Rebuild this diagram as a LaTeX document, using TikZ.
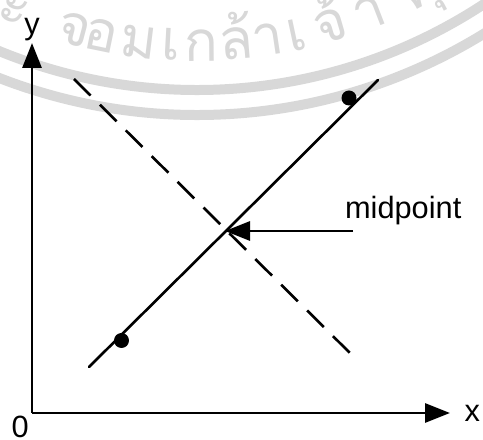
\documentclass[tikz,border=0pt]{standalone}
\usepackage{fontspec}
\setmainfont{Liberation Sans}
\newfontfamily\thaifont[Script=Thai]{Loma}
\usetikzlibrary{arrows.meta, positioning, calc}
\definecolor{cwater}{HTML}{D8D8D8}
\tikzset{
  every picture/.style={font=\fontsize{17.5}{21}\selectfont},
  axis/.style={line width=1.7pt},
  arrow/.style={-{Triangle[length=0.5cm, width=0.38cm]}, line width=1.7pt},
  line/.style={line width=1.5pt, line cap=round},
  dot/.style={circle, fill=black, inner sep=0pt, minimum size=0.3cm},
  lbl/.style={inner sep=1pt},
  band/.style={draw=cwater, line width=0.2cm},
  wmark/.style={text=cwater, inner sep=0pt, anchor=base, font=\thaifont\fontsize{32}{36}\selectfont},
}

\begin{document}
\begin{tikzpicture}
  \useasboundingbox (-0.64,-0.54) rectangle (9.02,8.26);
  % seal in the background
  \begin{scope}
    \clip (-0.64,-0.54) rectangle (9.02,8.26);
    \coordinate (C) at (3.3,16.9);
    \draw[band] ($(C)+(-140:10.44)$) arc[start angle=-140, end angle=-40, radius=10.44];
    \draw[band] ($(C)+(-140:10.94)$) arc[start angle=-140, end angle=-40, radius=10.94];
    \foreach \ch/\ang [count=\i] in {ร/-116.1, ะ/-112.5, จ/-104.9, อ/-101.6, ม/-97.0, เ/-93.1, ก/-89.5, ล้/-85.3, า/-81.5, เ/-77.9, จ้/-73.7, า/-68.8, คุ/-62.1, ณ/-55.7}
      \node[wmark, rotate=\ang+90] (w\i) at ($(C)+(\ang:9.86)$) {\ch};
  \end{scope}
  % axes
  \coordinate (O) at (0,0);
  \coordinate (xend) at (8.36,0);
  \coordinate (yend) at (0,7.4);
  \draw[arrow] (O) -- (xend);
  \draw[arrow] (O) -- (yend);
  \node[lbl, above=0pt of yend] (ylab) {y};
  \node[lbl, right=0.25cm of xend] (xlab) {x};
  \node[lbl, below left=1pt of O] (zero) {0};
  % the two lines
  \coordinate (s1) at (1.14,0.92);
  \coordinate (s2) at (6.92,6.66);
  \coordinate (d1) at (0.84,6.68);
  \coordinate (d2) at (6.5,1.06);
  \draw[line] (s1) -- (s2);
  \draw[line, line cap=butt, dash pattern=on 0.47cm off 0.26cm] (d1) -- (d2);
  \node[dot] (p1) at (1.79,1.45) {};
  \node[dot] (p2) at (6.34,6.30) {};
  % midpoint
  \coordinate (mid) at (3.86,3.64);
  \coordinate (mtail) at (6.42,3.64);
  \draw[arrow] (mtail) -- (mid);
  \node[lbl, anchor=base west] (mlab) at (6.22,3.88) {midpoint};
\end{tikzpicture}
\end{document}
